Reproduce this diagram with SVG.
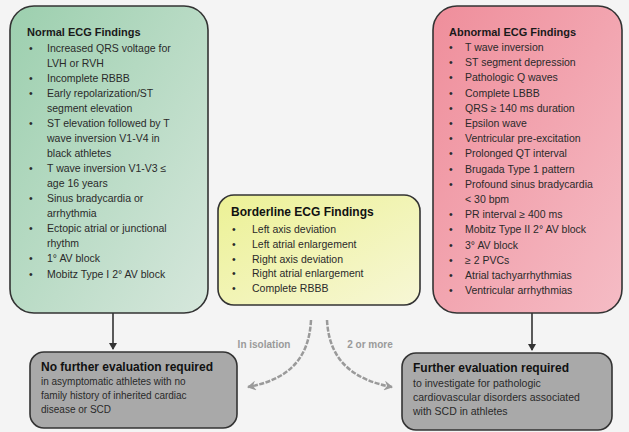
<svg xmlns="http://www.w3.org/2000/svg" width="629" height="432" viewBox="0 0 629 432">
<defs>
<linearGradient id="gGreen" x1="0" y1="0" x2="1" y2="1"><stop offset="0" stop-color="#9ccfae"/><stop offset="1" stop-color="#d6e7dc"/></linearGradient>
<linearGradient id="gRed" x1="0" y1="0" x2="1" y2="1"><stop offset="0" stop-color="#ef8e9b"/><stop offset="1" stop-color="#f5bcc5"/></linearGradient>
<linearGradient id="gYellow" x1="0" y1="0" x2="1" y2="1"><stop offset="0" stop-color="#ecf195"/><stop offset="1" stop-color="#f7f7d6"/></linearGradient>
<marker id="ah" markerWidth="8" markerHeight="8" refX="6" refY="4" orient="auto" markerUnits="userSpaceOnUse"><path d="M0,0 L7,4 L0,8 z" fill="#333"/></marker>
<marker id="ahg" markerWidth="10" markerHeight="10" refX="8" refY="5" orient="auto" markerUnits="userSpaceOnUse"><path d="M0,0 L9,5 L0,10 L3,5 z" fill="#9a9a9a"/></marker>
</defs>
<style>
text{font-family:"Liberation Sans",Arial,sans-serif;fill:#2a2a2a}
.t{font-size:11px;font-weight:bold;fill:#1a1a1a}
.tb{font-size:12px;font-weight:bold;fill:#111}
.i{font-size:10.5px}
.box{stroke:#333;stroke-width:1.6}
.lbl{font-size:10px;font-weight:bold;fill:#9a9a9a}
</style>
<rect width="629" height="432" fill="#f4f4f4"/>
<g id="normal">
<rect class="box" x="10" y="6" width="198" height="307" rx="24" fill="url(#gGreen)"/>
<text class="t" x="27" y="36">Normal ECG Findings</text>
<g class="i">
<text x="29" y="52">•</text><text x="47" y="52">Increased QRS voltage for</text>
<text x="47" y="67">LVH or RVH</text>
<text x="29" y="82">•</text><text x="47" y="82">Incomplete RBBB</text>
<text x="29" y="97">•</text><text x="47" y="97">Early repolarization/ST</text>
<text x="47" y="112">segment elevation</text>
<text x="29" y="127">•</text><text x="47" y="127">ST elevation followed by T</text>
<text x="47" y="142">wave inversion V1-V4 in</text>
<text x="47" y="157">black athletes</text>
<text x="29" y="172">•</text><text x="47" y="172">T wave inversion V1-V3 ≤</text>
<text x="47" y="187">age 16 years</text>
<text x="29" y="202">•</text><text x="47" y="202">Sinus bradycardia or</text>
<text x="47" y="217">arrhythmia</text>
<text x="29" y="232">•</text><text x="47" y="232">Ectopic atrial or junctional</text>
<text x="47" y="247">rhythm</text>
<text x="29" y="262">•</text><text x="47" y="262">1° AV block</text>
<text x="29" y="278">•</text><text x="47" y="278">Mobitz Type I 2° AV block</text>
</g>
</g>
<g id="abnormal">
<rect class="box" x="433" y="6" width="189" height="307" rx="24" fill="url(#gRed)"/>
<text class="t" x="449" y="36">Abnormal ECG Findings</text>
<g class="i">
<text x="449" y="51">•</text><text x="465" y="51">T wave inversion</text>
<text x="449" y="66">•</text><text x="465" y="66">ST segment depression</text>
<text x="449" y="81">•</text><text x="465" y="81">Pathologic Q waves</text>
<text x="449" y="97">•</text><text x="465" y="97">Complete LBBB</text>
<text x="449" y="112">•</text><text x="465" y="112">QRS ≥ 140 ms duration</text>
<text x="449" y="127">•</text><text x="465" y="127">Epsilon wave</text>
<text x="449" y="142">•</text><text x="465" y="142">Ventricular pre-excitation</text>
<text x="449" y="157">•</text><text x="465" y="157">Prolonged QT interval</text>
<text x="449" y="173">•</text><text x="465" y="173">Brugada Type 1 pattern</text>
<text x="449" y="188">•</text><text x="465" y="188">Profound sinus bradycardia</text>
<text x="465" y="203">&lt; 30 bpm</text>
<text x="449" y="218">•</text><text x="465" y="218">PR interval ≥ 400 ms</text>
<text x="449" y="233">•</text><text x="465" y="233">Mobitz Type II 2° AV block</text>
<text x="449" y="249">•</text><text x="465" y="249">3° AV block</text>
<text x="449" y="264">•</text><text x="465" y="264">≥ 2 PVCs</text>
<text x="449" y="279">•</text><text x="465" y="279">Atrial tachyarrhythmias</text>
<text x="449" y="294">•</text><text x="465" y="294">Ventricular arrhythmias</text>
</g>
</g>
<g id="borderline">
<rect class="box" x="218" y="195" width="202" height="110" rx="16" fill="url(#gYellow)"/>
<text class="tb" x="231" y="216">Borderline ECG Findings</text>
<g class="i">
<text x="232" y="233">•</text><text x="252" y="233">Left axis deviation</text>
<text x="232" y="248">•</text><text x="252" y="248">Left atrial enlargement</text>
<text x="232" y="263">•</text><text x="252" y="263">Right axis deviation</text>
<text x="232" y="277">•</text><text x="252" y="277">Right atrial enlargement</text>
<text x="232" y="292">•</text><text x="252" y="292">Complete RBBB</text>
</g>
</g>
<g id="no-further">
<rect class="box" x="30" y="352" width="207" height="76" rx="14" fill="#a9a9a9"/>
<text class="tb" x="41" y="371">No further evaluation required</text>
<g class="i" style="font-size:10px">
<text x="41" y="385">in asymptomatic athletes with no</text>
<text x="41" y="399">family history of inherited cardiac</text>
<text x="41" y="413">disease or SCD</text>
</g>
</g>
<g id="further">
<rect class="box" x="402" y="353" width="210" height="77" rx="14" fill="#a9a9a9"/>
<text class="tb" x="413" y="372">Further evaluation required</text>
<g class="i">
<text x="413" y="387">to investigate for pathologic</text>
<text x="413" y="401">cardiovascular disorders associated</text>
<text x="413" y="415">with SCD in athletes</text>
</g>
</g>
<g id="connectors">
<line x1="113" y1="313" x2="113" y2="349" stroke="#333" stroke-width="1.6" marker-end="url(#ah)"/>
<line x1="532" y1="313" x2="532" y2="350" stroke="#333" stroke-width="1.6" marker-end="url(#ah)"/>
<path d="M311,320 C309,362 285,380 248,387" fill="none" stroke="#9a9a9a" stroke-width="2.5" stroke-dasharray="5,1.5" marker-end="url(#ahg)"/>
<path d="M327,320 C329,362 355,380 392,387" fill="none" stroke="#9a9a9a" stroke-width="2.5" stroke-dasharray="5,1.5" marker-end="url(#ahg)"/>
<text class="lbl" x="264" y="348" text-anchor="middle">In isolation</text>
<text class="lbl" x="370" y="348" text-anchor="middle">2 or more</text>
</g>
</svg>
